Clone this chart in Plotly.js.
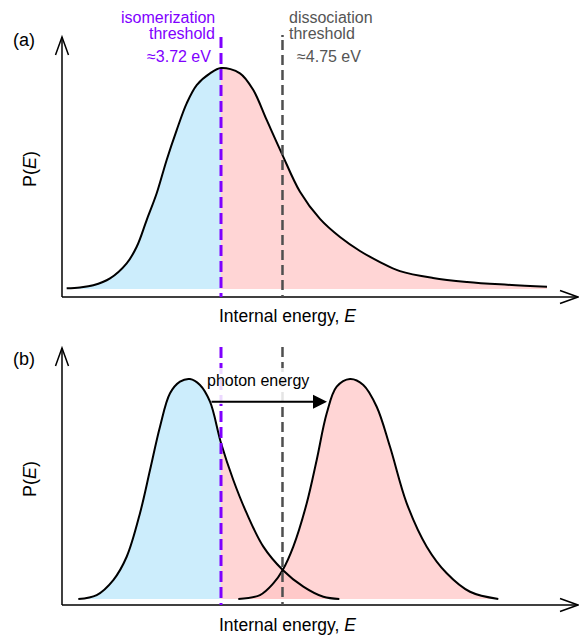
<!DOCTYPE html>
<html>
<head>
<meta charset="utf-8">
<script src="https://cdn.plot.ly/plotly-3.0.1.min.js"></script>
<style>html,body{margin:0;padding:0;background:#fff;}#chart{width:579px;height:635px;}</style>
</head>
<body>
<div id="chart"></div>
<script>
// ---- data (internal energy in eV, P(E) in arbitrary units) ----
const energyA = [1.135, 1.358, 1.581, 1.861, 2.140, 2.308, 2.475, 2.643, 2.810, 2.978, 3.145, 3.313, 3.536, 3.72, 4.038, 4.261, 4.485, 4.737, 5.043, 5.378, 5.713, 6.048, 6.383, 6.718, 7.271, 7.841, 8.393, 9.181];
const probA   = [0.003, 0.007, 0.017, 0.048, 0.116, 0.191, 0.312, 0.433, 0.584, 0.719, 0.840, 0.923, 0.976, 1.0, 0.976, 0.900, 0.765, 0.614, 0.440, 0.317, 0.235, 0.172, 0.122, 0.081, 0.050, 0.032, 0.021, 0.010];

const energyB1 = [1.330, 1.638, 1.916, 2.140, 2.363, 2.531, 2.698, 2.866, 3.033, 3.201, 3.368, 3.536, 3.72, 3.926, 4.150, 4.429, 4.754, 5.099, 5.434, 5.702];
const probB1   = [0.0, 0.018, 0.086, 0.192, 0.390, 0.586, 0.783, 0.935, 0.988, 1.0, 0.973, 0.897, 0.709, 0.541, 0.390, 0.238, 0.132, 0.056, 0.010, 0.0];

const energyB2 = [4.010, 4.373, 4.596, 4.754, 4.931, 5.156, 5.323, 5.491, 5.658, 5.881, 6.104, 6.328, 6.551, 6.831, 7.166, 7.501, 7.891, 8.365];
const probB2   = [0.0, 0.018, 0.071, 0.132, 0.238, 0.435, 0.632, 0.844, 0.965, 1.0, 0.973, 0.874, 0.692, 0.435, 0.238, 0.117, 0.033, 0.0];

const isomerizationThreshold = 3.72;   // eV
const dissociationThreshold  = 4.75;   // eV
const photonArrow = [3.536, 5.496];    // eV, tail and head of the photon-energy arrow
const photonArrowLevel = 0.897;        // P level of the arrow

// ---- styles ----
const W = 579, H = 635;
const FONT = 'Liberation Sans, Arial, Helvetica, sans-serif';
const PURPLE = '#7f00ff';
const GRAY = '#4f4f4f';
const GRAYTEXT = '#555555';
const BLUE = '#ccedfc';
const PINK = 'rgba(255,195,195,0.7)';

const px = x => x / W;
const py = y => 1 - y / H;

function split(xs, ys, cut, below) {
  const ox = [], oy = [];
  xs.forEach((x, i) => { if (below ? x <= cut : x >= cut) { ox.push(x); oy.push(ys[i]); } });
  return {x: ox, y: oy};
}

function fillTrace(d, color, xa, ya) {
  return {x: d.x, y: d.y, xaxis: xa, yaxis: ya, type: 'scatter', mode: 'lines',
    line: {width: 0, shape: 'spline', smoothing: 1}, fill: 'tozeroy', fillcolor: color, hoverinfo: 'skip'};
}
function curveTrace(x, y, xa, ya) {
  return {x: x, y: y, xaxis: xa, yaxis: ya, type: 'scatter', mode: 'lines',
    line: {width: 2, color: '#000', shape: 'spline', smoothing: 1}, hoverinfo: 'skip'};
}

const traces = [
  fillTrace(split(energyA, probA, isomerizationThreshold, true), BLUE, 'x', 'y'),
  fillTrace(split(energyA, probA, isomerizationThreshold, false), PINK, 'x', 'y'),
  curveTrace(energyA, probA, 'x', 'y'),
  fillTrace(split(energyB1, probB1, isomerizationThreshold, true), BLUE, 'x2', 'y2'),
  fillTrace(split(energyB1, probB1, isomerizationThreshold, false), PINK, 'x2', 'y2'),
  fillTrace({x: energyB2, y: probB2}, PINK, 'x2', 'y2'),
  curveTrace(energyB1, probB1, 'x2', 'y2'),
  curveTrace(energyB2, probB2, 'x2', 'y2')
];

// pixel 0 -> 0.0182 eV, pixel 579 -> 9.7166 eV
const xRange = [0.0182, 9.7166];
const hiddenX = {range: xRange, domain: [0, 1], visible: false, fixedrange: true};

function pathOf(pts) {
  return pts.map((p, i) => (i ? 'L' : 'M') + px(p[0]).toFixed(5) + ',' + py(p[1]).toFixed(5)).join(' ');
}
function axisShapes(yAxisTop, yAxisBottom) {
  const ln = {color: '#000', width: 1.5};
  return [
    {type: 'path', xref: 'paper', yref: 'paper', path: pathOf([[62, yAxisBottom], [62, yAxisTop]]), line: ln},
    {type: 'path', xref: 'paper', yref: 'paper', path: pathOf([[55.5, yAxisTop + 18], [62, yAxisTop], [68.5, yAxisTop + 18]]), line: ln},
    {type: 'path', xref: 'paper', yref: 'paper', path: pathOf([[62, yAxisBottom], [578, yAxisBottom]]), line: ln},
    {type: 'path', xref: 'paper', yref: 'paper', path: pathOf([[560, yAxisBottom - 6.5], [578, yAxisBottom], [560, yAxisBottom + 6.5]]), line: ln}
  ];
}
function vline(xref, xval, top, bottom, color, width, dash) {
  return {type: 'line', xref: xref, yref: 'paper', x0: xval, x1: xval, y0: py(top), y1: py(bottom),
    line: {color: color, width: width, dash: dash}};
}

const shapes = [].concat(
  axisShapes(37, 297),
  axisShapes(348, 605),
  [
    vline('x', isomerizationThreshold, 37, 297, PURPLE, 3, '11px,5px'),
    vline('x', dissociationThreshold, 35, 297, GRAY, 2.5, '2px,3px,10px,5px,10px,5px,10px,5px,10px,5px,10px,5px,10px,5px,10px,5px,10px,5px,10px,5px,10px,5px,10px,5px,10px,5px,10px,5px,10px,5px,10px,5px,10px,5px,10px,5px,10px,5px'),
    vline('x2', isomerizationThreshold, 347, 605, PURPLE, 3, '11px,5px'),
    vline('x2', dissociationThreshold, 347, 605, GRAY, 2.5, '10px,5px'),
    {type: 'rect', xref: 'paper', yref: 'paper', x0: px(213), x1: px(318), y0: py(368), y1: py(404),
      fillcolor: 'rgba(255,255,255,0.85)', line: {width: 0}}
  ]
);

function txt(text, x, y, opts) {
  return Object.assign({text: text, xref: 'paper', yref: 'paper', x: px(x), y: py(y), showarrow: false,
    xanchor: 'center', yanchor: 'middle', font: {family: FONT, size: 16, color: '#000'}}, opts || {});
}

const annotations = [
  txt('isomerization', 217, 17, {xanchor: 'right', font: {family: FONT, size: 16, color: PURPLE}}),
  txt('threshold', 217, 33, {xanchor: 'right', font: {family: FONT, size: 16, color: PURPLE}}),
  txt('≈' + isomerizationThreshold.toFixed(2) + ' eV', 213, 56, {xanchor: 'right', font: {family: FONT, size: 16, color: PURPLE}}),
  txt('dissociation', 287, 17, {xanchor: 'left', font: {family: FONT, size: 16, color: GRAYTEXT}}),
  txt('threshold', 287, 33, {xanchor: 'left', font: {family: FONT, size: 16, color: GRAYTEXT}}),
  txt('≈' + dissociationThreshold.toFixed(2) + ' eV', 295, 56, {xanchor: 'left', font: {family: FONT, size: 16, color: GRAYTEXT}}),
  txt('(a)', 24, 40, {font: {family: FONT, size: 18, color: '#000'}}),
  txt('(b)', 24, 359, {font: {family: FONT, size: 18, color: '#000'}}),
  txt('P(<i>E</i>)', 30, 169, {textangle: -90, font: {family: FONT, size: 18, color: '#000'}}),
  txt('P(<i>E</i>)', 30, 479, {textangle: -90, font: {family: FONT, size: 18, color: '#000'}}),
  txt('Internal energy, <i>E</i>', 287, 316, {font: {family: FONT, size: 17.5, color: '#000'}}),
  txt('Internal energy, <i>E</i>', 287, 625, {font: {family: FONT, size: 17.5, color: '#000'}}),
  txt('photon energy', 258, 380, {font: {family: FONT, size: 16, color: '#000'}}),
  {xref: 'x2', yref: 'y2', axref: 'x2', ayref: 'y2', x: photonArrow[1], y: photonArrowLevel,
    ax: photonArrow[0], ay: photonArrowLevel, text: '', showarrow: true, arrowhead: 2, arrowsize: 1.4,
    arrowwidth: 2, arrowcolor: '#000', standoff: 0, startstandoff: 0}
];

const layout = {
  width: W, height: H,
  margin: {l: 0, r: 0, t: 0, b: 0, pad: 0},
  paper_bgcolor: '#fff', plot_bgcolor: 'rgba(0,0,0,0)',
  showlegend: false,
  xaxis: Object.assign({anchor: 'y'}, hiddenX),
  xaxis2: Object.assign({anchor: 'y2'}, hiddenX),
  yaxis: {domain: [0.5, 1], range: [-0.1290, 1.3077], visible: false, fixedrange: true},
  yaxis2: {domain: [0, 0.5], range: [-0.1636, 1.2795], visible: false, fixedrange: true},
  shapes: shapes,
  annotations: annotations
};

Plotly.newPlot('chart', traces, layout, {staticPlot: true, displayModeBar: false});
</script>
</body>
</html>
